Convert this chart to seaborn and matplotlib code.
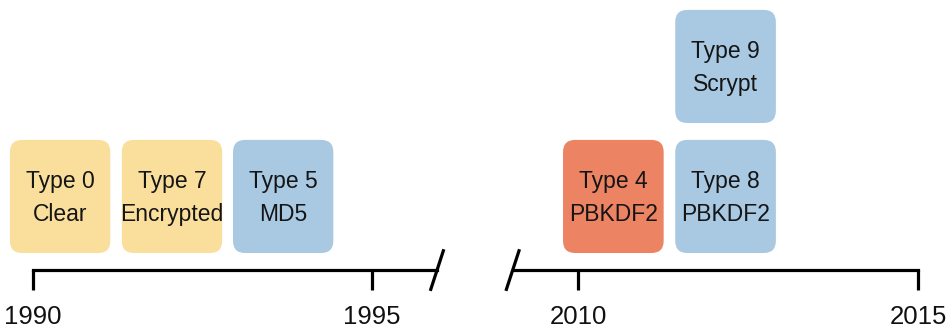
"""Cisco password type timeline, drawn as a broken-axis chart."""

import matplotlib
matplotlib.use("Agg")
import matplotlib.pyplot as plt
import seaborn as sns
from matplotlib.patches import FancyBboxPatch

# ------------------------------------------------------------------
# Data
# ------------------------------------------------------------------
box_labels = ["Type 0\nClear", "Type 7\nEncrypted", "Type 5\nMD5",
              "Type 4\nPBKDF2", "Type 8\nPBKDF2", "Type 9\nScrypt"]
box_start = [1989.66, 1991.31, 1992.95, 2009.78, 2011.43, 2011.43]
box_row = [0, 0, 0, 0, 0, 1]
box_group = ["reversible", "reversible", "hash", "flawed", "hash", "hash"]

left_ticks = [1990, 1995]
right_ticks = [2010, 2015]
left_break = 1995.96
right_break = 2009.04

group_colors = {"reversible": "#F9DE9C", "hash": "#A9C9E3", "flawed": "#EC8464"}

BOX_W = 1.48
BOX_H = 0.87
LINE_Y = -0.131

sns.set_theme(style="white")
plt.rcParams["font.family"] = ["Liberation Sans", "DejaVu Sans"]

fig = plt.figure(figsize=(9.51, 3.30), dpi=100)
ax_l = fig.add_axes([0.0, 0.0, 0.5, 1.0])
ax_r = fig.add_axes([0.5, 0.0, 0.5, 1.0])
ax_l.set_xlim(1989.513, 1996.527)
ax_r.set_xlim(2008.493, 2015.485)
for ax in (ax_l, ax_r):
    ax.set_ylim(-0.592, 1.946)
    ax.patch.set_alpha(0)
    for side in ("top", "left", "right"):
        ax.spines[side].set_visible(False)
    ax.spines["bottom"].set_position(("data", LINE_Y))
    ax.spines["bottom"].set_linewidth(2.3)
    ax.spines["bottom"].set_color("black")
    ax.set_yticks([])
    ax.tick_params(axis="x", direction="out", length=14.5, width=2.3,
                   color="black", pad=11, labelsize=18.5, labelcolor="#111111",
                   bottom=True)

ax_l.set_xticks(left_ticks, [str(t) for t in left_ticks])
ax_r.set_xticks(right_ticks, [str(t) for t in right_ticks])
ax_l.spines["bottom"].set_bounds(left_ticks[0], left_break)
ax_r.spines["bottom"].set_bounds(right_break, right_ticks[-1])

# break marks
for ax, xb in ((ax_l, left_break), (ax_r, right_break)):
    ax.plot([xb - 0.1, xb + 0.1], [LINE_Y - 0.16, LINE_Y + 0.16],
            color="black", lw=2.3, solid_capstyle="butt", clip_on=False)

# aspect so rounded corners look circular
fig.canvas.draw()
px_x = ax_l.transData.transform((1, 0))[0] - ax_l.transData.transform((0, 0))[0]
px_y = ax_l.transData.transform((0, 1))[1] - ax_l.transData.transform((0, 0))[1]
aspect = px_x / px_y

for label, x0, row, grp in zip(box_labels, box_start, box_row, box_group):
    ax = ax_l if x0 < 2000 else ax_r
    box = FancyBboxPatch((x0, row), BOX_W, BOX_H,
                         boxstyle="round,pad=0,rounding_size=0.18",
                         mutation_aspect=aspect, facecolor=group_colors[grp],
                         edgecolor="none", clip_on=False)
    ax.add_patch(box)
    ax.text(x0 + BOX_W / 2, row + BOX_H / 2 - 0.01, label, ha="center",
            va="center", fontsize=16.5, linespacing=1.55, color="#151515",
            clip_on=False)

fig.savefig("out.png", dpi=100)
